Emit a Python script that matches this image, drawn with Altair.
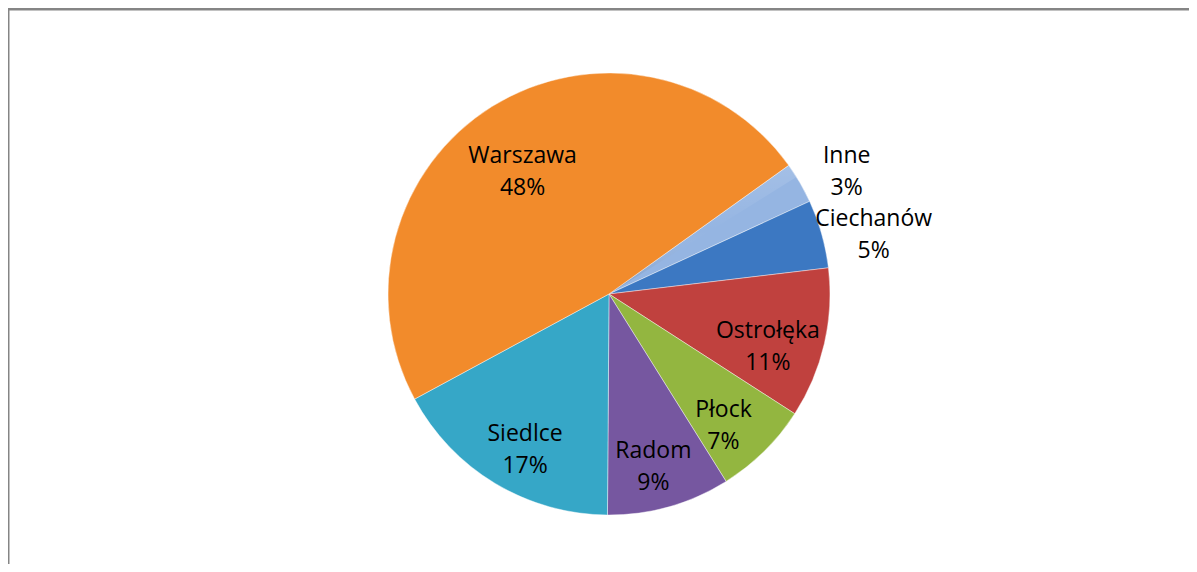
import math
import altair as alt
import pandas as pd

regions = ["Inne", "Ciechanów", "Ostrołęka", "Płock", "Radom", "Siedlce", "Warszawa"]
shares = [3, 5, 11, 7, 9, 17, 48]
colors = ["#95B5E2", "#3C78C2", "#C0413E", "#93B640", "#7657A0", "#36A7C7", "#F28B2B"]
placement = ["out", "out", "in", "in", "in", "in", "in"]

df = pd.DataFrame({
    "region": regions,
    "share": shares,
    "order": list(range(len(regions))),
    "place": placement,
})

start = math.radians(54.4)
theta_scale = alt.Scale(domain=[0, sum(shares)], range=[start, start + 2 * math.pi])

CX, CY, R = 601, 286, 221

base = alt.Chart(df).transform_calculate(
    label="datum.region + '\\n' + datum.share + '%'"
)

pie = base.mark_arc(outerRadius=R, stroke="#ffffff", strokeWidth=0.6, strokeOpacity=0.7).encode(
    theta=alt.Theta("share:Q", stack=True, scale=theta_scale),
    order=alt.Order("order:Q"),
    color=alt.Color("region:N", scale=alt.Scale(domain=regions, range=colors), legend=None),
    x=alt.value(CX),
    y=alt.value(CY),
)

shade = alt.Chart(pd.DataFrame({"v": [1]})).mark_arc(
    outerRadius=R,
    fill={
        "gradient": "linear",
        "x1": 0, "y1": 0, "x2": 0, "y2": 1,
        "stops": [
            {"offset": 0, "color": "rgba(255,255,255,0.14)"},
            {"offset": 0.5, "color": "rgba(255,255,255,0)"},
            {"offset": 1, "color": "rgba(0,0,0,0.14)"},
        ],
    },
).encode(
    theta=alt.Theta("v:Q", scale=alt.Scale(range=[0, 2 * math.pi])),
    x=alt.value(CX),
    y=alt.value(CY),
)

text_props = dict(font="Open Sans", fontSize=23, color="#000000", lineBreak="\n",
                  baseline="middle", align="center", lineHeight=32)

inside = base.mark_text(radius=163, **text_props).encode(
    theta=alt.Theta("share:Q", stack=True, scale=theta_scale),
    order=alt.Order("order:Q"),
    text=alt.condition("datum.place == 'in'", "label:N", alt.value("")),
    x=alt.value(CX),
    y=alt.value(CY),
)

outside = base.mark_text(radius=275, **text_props).encode(
    theta=alt.Theta("share:Q", stack=True, scale=theta_scale),
    order=alt.Order("order:Q"),
    text=alt.condition("datum.place == 'out'", "label:N", alt.value("")),
    x=alt.value(CX),
    y=alt.value(CY),
)

frame_top = alt.Chart(pd.DataFrame({"v": [1]})).mark_rule(color="#858585", strokeWidth=3).encode(
    x=alt.value(-1), x2=alt.value(1189), y=alt.value(1)
)
frame_left = alt.Chart(pd.DataFrame({"v": [1]})).mark_rule(color="#858585", strokeWidth=3).encode(
    x=alt.value(0), y=alt.value(0), y2=alt.value(564)
)

chart = alt.layer(pie, shade, inside, outside, frame_top, frame_left).properties(
    width=1181, height=556, autosize=alt.AutoSizeParams(type="none"), padding=0,
    background="#ffffff",
).configure_view(stroke=None)

chart.save("out.html", embed_options={"renderer": "svg", "actions": False})
